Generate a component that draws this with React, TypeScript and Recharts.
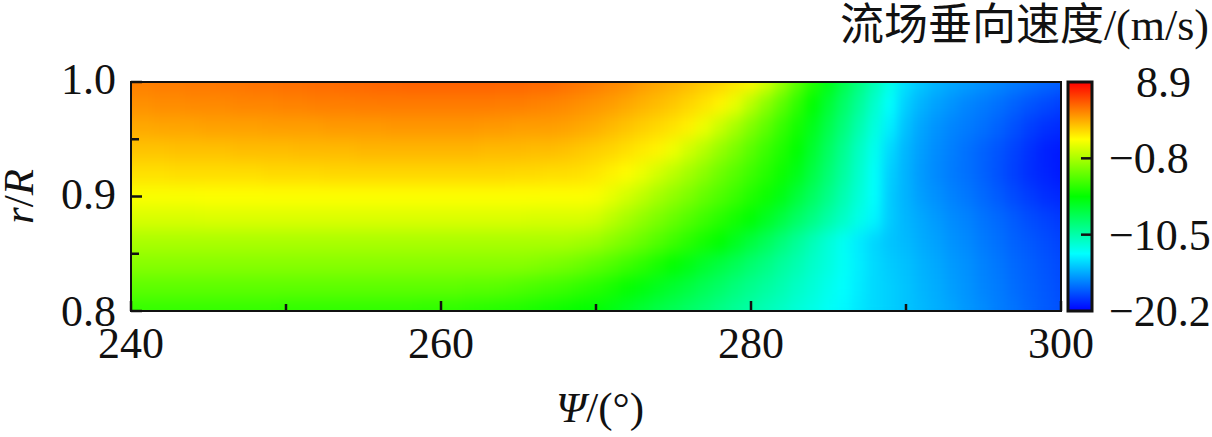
import React from 'react';
import {
  ScatterChart,
  Scatter,
  BarChart,
  Bar,
  XAxis,
  YAxis,
} from 'recharts';

// Field: azimuth columns, radius rows, vertical velocity in m/s
const azimuths = [
  240, 241, 242, 243, 244, 245, 246, 247, 248, 249, 250, 251, 252, 253, 254, 255, 256, 257, 258, 259,
  260, 261, 262, 263, 264, 265, 266, 267, 268, 269, 270, 271, 272, 273, 274, 275, 276, 277, 278, 279,
  280, 281, 282, 283, 284, 285, 286, 287, 288, 289, 290, 291, 292, 293, 294, 295, 296, 297, 298, 299, 300,
];
const radii = [1.0, 0.98, 0.96, 0.94, 0.92, 0.9, 0.88, 0.86, 0.84, 0.82, 0.8];
const velocity = [
  [5.3, 5.3, 5.4, 5.4, 5.5, 5.5, 5.6, 5.6, 5.7, 5.7, 5.8, 5.8, 5.9, 5.9, 6.0, 6.0, 6.1, 6.1, 6.2, 6.2, 6.2, 6.2, 6.2, 6.2, 6.1, 6.1, 6.0, 6.0, 5.8, 5.6,
    5.4, 5.1, 4.9, 4.5, 4.2, 3.9, 3.6, 3.2, 2.9, 2.4, 1.9, 0.5, -1.2, -3.0, -4.6, -6.2, -7.8, -9.3, -10.8, -12.3, -13.8, -14.5, -15.0, -15.4, -15.7, -16.0, -16.3, -16.6, -16.9, -17.2, -17.4],
  [4.8, 4.8, 4.9, 4.9, 5.0, 5.0, 5.0, 5.1, 5.1, 5.1, 5.2, 5.2, 5.3, 5.3, 5.3, 5.4, 5.4, 5.4, 5.4, 5.4, 5.4, 5.4, 5.4, 5.4, 5.3, 5.3, 5.2, 5.1, 5.0, 4.8,
    4.6, 4.4, 4.1, 3.8, 3.5, 3.2, 2.8, 2.4, 1.9, 1.0, -0.4, -1.7, -3.0, -4.3, -5.65, -7.1, -8.6, -10.0, -11.5, -12.9, -14.3, -15.1, -15.6, -16.0, -16.4, -16.7, -17.0, -17.4, -17.8, -18.1, -18.4],
  [4.1, 4.1, 4.2, 4.2, 4.2, 4.3, 4.3, 4.3, 4.3, 4.4, 4.4, 4.4, 4.4, 4.5, 4.5, 4.5, 4.5, 4.6, 4.6, 4.6, 4.6, 4.6, 4.6, 4.5, 4.5, 4.4, 4.4, 4.4, 4.3, 4.1,
    3.9, 3.6, 3.3, 3.0, 2.7, 2.4, 2.0, 1.1, 0.1, -0.9, -2.0, -3.0, -4.1, -5.1, -6.4, -7.8, -9.2, -10.6, -12.0, -13.4, -14.7, -15.5, -16.0, -16.4, -16.7, -17.0, -17.4, -17.9, -18.4, -18.8, -19.0],
  [3.3, 3.3, 3.3, 3.4, 3.4, 3.4, 3.4, 3.5, 3.5, 3.5, 3.5, 3.6, 3.6, 3.6, 3.6, 3.7, 3.7, 3.7, 3.7, 3.7, 3.7, 3.7, 3.7, 3.6, 3.6, 3.6, 3.5, 3.5, 3.4, 3.2,
    3.0, 2.8, 2.5, 2.2, 1.9, 1.2, 0.3, -0.5, -1.4, -2.2, -3.1, -4.0, -4.8, -5.65, -7.0, -8.4, -9.8, -11.2, -12.5, -14.0, -15.0, -15.7, -16.2, -16.6, -17.0, -17.4, -17.8, -18.3, -18.8, -19.3, -19.5],
  [2.5, 2.5, 2.5, 2.6, 2.6, 2.6, 2.6, 2.6, 2.6, 2.7, 2.7, 2.7, 2.7, 2.8, 2.8, 2.8, 2.8, 2.8, 2.8, 2.8, 2.8, 2.8, 2.8, 2.8, 2.8, 2.7, 2.7, 2.6, 2.6, 2.5,
    2.3, 2.0, 1.7, 1.1, 0.4, -0.3, -1.0, -1.7, -2.5, -3.2, -3.9, -4.6, -5.3, -6.3, -7.6, -8.9, -10.2, -11.5, -12.8, -14.3, -15.1, -15.8, -16.3, -16.7, -17.0, -17.4, -17.9, -18.4, -18.9, -19.2, -19.5],
  [1.5, 1.5, 1.5, 1.5, 1.5, 1.6, 1.6, 1.6, 1.6, 1.6, 1.6, 1.6, 1.6, 1.6, 1.6, 1.6, 1.6, 1.6, 1.6, 1.6, 1.6, 1.6, 1.6, 1.6, 1.6, 1.6, 1.6, 1.6, 1.6, 1.6,
    1.5, 1.0, 0.4, -0.2, -0.9, -1.5, -2.1, -2.8, -3.4, -4.0, -4.7, -5.3, -6.2, -7.3, -8.4, -9.5, -10.7, -11.8, -12.9, -14.4, -15.1, -15.7, -16.1, -16.5, -16.8, -17.2, -17.6, -18.1, -18.5, -18.9, -19.1],
  [0.5, 0.5, 0.5, 0.5, 0.5, 0.6, 0.6, 0.6, 0.6, 0.6, 0.6, 0.6, 0.6, 0.6, 0.6, 0.6, 0.6, 0.6, 0.6, 0.6, 0.6, 0.6, 0.6, 0.6, 0.6, 0.6, 0.5, 0.5, 0.5, 0.5,
    0.3, -0.3, -0.9, -1.5, -2.1, -2.7, -3.3, -3.9, -4.5, -5.1, -5.7, -6.6, -7.5, -8.5, -9.4, -10.4, -11.3, -12.3, -13.2, -14.4, -15.0, -15.4, -15.8, -16.2, -16.5, -16.9, -17.2, -17.6, -18.0, -18.3, -18.6],
  [-0.8, -0.8, -0.8, -0.8, -0.8, -0.8, -0.8, -0.8, -0.8, -0.8, -0.8, -0.8, -0.8, -0.8, -0.8, -0.8, -0.8, -0.8, -0.8, -0.8, -0.8, -0.8, -0.8, -0.8, -0.8, -0.8, -0.8, -0.8, -0.8, -1.0,
    -1.2, -1.7, -2.2, -2.7, -3.3, -3.9, -4.5, -5.1, -5.65, -6.5, -7.4, -8.2, -9.1, -10.0, -10.9, -11.8, -12.6, -13.5, -14.1, -14.6, -14.9, -15.3, -15.6, -16.0, -16.3, -16.7, -17.0, -17.4, -17.7, -18.0, -18.3],
  [-1.8, -1.8, -1.8, -1.8, -1.8, -1.8, -1.8, -1.8, -1.8, -1.8, -1.8, -1.8, -1.8, -1.8, -1.8, -1.8, -1.8, -1.8, -1.8, -1.8, -1.8, -1.8, -1.8, -1.8, -1.8, -1.8, -1.9, -2.1, -2.3, -2.6,
    -3.0, -3.4, -3.9, -4.4, -5.0, -5.6, -6.2, -6.9, -7.5, -8.1, -8.8, -9.4, -10.1, -10.7, -11.4, -12.0, -12.7, -13.4, -14.0, -14.4, -14.7, -15.1, -15.4, -15.8, -16.1, -16.5, -16.8, -17.2, -17.5, -17.8, -18.1],
  [-3.0, -3.0, -3.0, -3.0, -3.0, -3.0, -3.0, -3.0, -3.0, -3.0, -3.0, -3.0, -3.0, -3.0, -3.0, -3.0, -3.0, -3.0, -3.0, -3.0, -3.0, -3.0, -3.1, -3.1, -3.2, -3.4, -3.6, -3.8, -4.0, -4.3,
    -4.6, -5.0, -5.5, -6.0, -6.5, -7.0, -7.5, -8.1, -8.6, -9.2, -9.7, -10.2, -10.7, -11.3, -11.8, -12.4, -12.9, -13.5, -14.0, -14.3, -14.6, -15.0, -15.3, -15.7, -16.0, -16.4, -16.7, -17.1, -17.4, -17.7, -18.0],
  [-4.2, -4.2, -4.2, -4.2, -4.2, -4.2, -4.2, -4.2, -4.2, -4.2, -4.3, -4.3, -4.3, -4.3, -4.3, -4.3, -4.3, -4.3, -4.3, -4.4, -4.4, -4.4, -4.5, -4.6, -4.7, -4.8, -5.0, -5.2, -5.4, -5.6,
    -5.8, -6.2, -6.7, -7.2, -7.7, -8.1, -8.6, -9.0, -9.5, -10.0, -10.4, -10.9, -11.3, -11.8, -12.2, -12.7, -13.1, -13.6, -14.0, -14.3, -14.6, -14.9, -15.2, -15.5, -15.9, -16.2, -16.6, -16.9, -17.3, -17.6, -17.9],
];

const xTicks = [240, 250, 260, 270, 280, 290, 300];
const xLabels = [240, 260, 280, 300];
const yTicks = [0.8, 0.85, 0.9, 0.95, 1.0];
const yLabels = [0.8, 0.9, 1.0];
const barTicks = [8.9, -0.8, -10.5, -20.2];
const barMin = -20.2;
const barMax = 8.9;
const jet = ['#0000ff', '#00ffff', '#00ff00', '#ffff00', '#ff0000'];
const jetRgb = [[0, 0, 255], [0, 255, 255], [0, 255, 0], [255, 255, 0], [255, 0, 0]];

const FONT = '"Liberation Serif", "Noto Sans CJK SC", serif';
const INK = '#111';
const FONT_SIZE = 44;
const PLOT = { left: 131, top: 82, width: 930, height: 229 };
const CELL_W = PLOT.width / (azimuths.length - 1);
const CELL_H = PLOT.height / (radii.length - 1);
const FRAME = 2.8;

const cells = radii.flatMap((r, i) => azimuths.map((a, j) => ({ a, r, v: velocity[i][j] })));

function colorOf(v: number) {
  const t = Math.min(0.9999, Math.max(0, (v - barMin) / (barMax - barMin))) * 4;
  const k = Math.floor(t);
  const f = t - k;
  const c = jetRgb[k].map((p, n) => Math.round(p + (jetRgb[k + 1][n] - p) * f));
  return `rgb(${c.join(',')})`;
}

const HeatCell = (props: any) => {
  const v = props.payload ? props.payload.v : props.v;
  return (
    <rect
      x={props.cx - CELL_W / 2 - 0.5}
      y={props.cy - CELL_H / 2 - 0.5}
      width={CELL_W + 1}
      height={CELL_H + 1}
      fill={colorOf(v)}
    />
  );
};

const XTick = ({ x, y, payload }: any) => (
  <g>
    <line x1={x} x2={x} y1={y} y2={y - (xLabels.includes(payload.value) ? 10 : 7)} stroke={INK} strokeWidth={2.5} />
    {xLabels.includes(payload.value) && (
      <text x={x} y={y + 47} textAnchor="middle" fontSize={FONT_SIZE} fontFamily={FONT} fill={INK}>
        {payload.value}
      </text>
    )}
  </g>
);

const YTick = ({ x, y, payload }: any) => {
  const major = yLabels.includes(payload.value);
  return (
    <g>
      <line x1={x} x2={x + (major ? 11 : 8)} y1={y} y2={y} stroke={INK} strokeWidth={2.5} />
      {major && (
        <text x={x - 15} y={y + (payload.value === 0.8 ? 15 : 12)} textAnchor="end" fontSize={FONT_SIZE} fontFamily={FONT} fill={INK}>
          {payload.value.toFixed(1)}
        </text>
      )}
    </g>
  );
};

const BarTick = ({ x, y, payload }: any) => {
  const v = payload.value;
  const inner = v !== barMin && v !== barMax;
  return (
    <g>
      {inner && <line x1={x} x2={x - 11} y1={y} y2={y} stroke={INK} strokeWidth={2.5} />}
      <text x={x + (v < 0 ? 17 : 44)} y={y + 15} textAnchor="start" fontSize={FONT_SIZE} fontFamily={FONT} fill={INK}>
        {v < 0 ? `\u2212${Math.abs(v).toFixed(1)}` : v.toFixed(1)}
      </text>
    </g>
  );
};

const XTitle = ({ viewBox }: any) => (
  <text x={viewBox.x + viewBox.width / 2 + 4} y={422} textAnchor="middle" fontSize={43} fontFamily={FONT} fill={INK}>
    <tspan fontStyle="italic">Ψ</tspan>/(°)
  </text>
);

const YTitle = ({ viewBox }: any) => {
  const cy = viewBox.y + viewBox.height / 2;
  return (
    <text x={33} y={cy} transform={`rotate(-90 33 ${cy})`} textAnchor="middle" fontSize={43} fontFamily={FONT} fill={INK}>
      <tspan fontStyle="italic">r</tspan>/<tspan fontStyle="italic">R</tspan>
    </text>
  );
};

export default function App() {
  return (
    <div style={{ position: 'relative', width: 1212, height: 437, background: '#fff', overflow: 'hidden' }}>
      <style>{`
        body { margin: 0; }
        .recharts-scatter { filter: url(#cellBlur); clip-path: url(#plotClip); }
      `}</style>

      <div
        style={{
          position: 'absolute',
          right: 3,
          top: 1,
          fontFamily: FONT,
          fontSize: FONT_SIZE,
          lineHeight: '50px',
          color: INK,
          whiteSpace: 'nowrap',
        }}
      >
        流场垂向速度/(m/s)
      </div>

      <div style={{ position: 'absolute', left: 0, top: 0 }}>
        <ScatterChart
          width={1212}
          height={437}
          margin={{ top: PLOT.top, right: 1212 - PLOT.left - PLOT.width, bottom: 46, left: 0 }}
        >
          <defs>
            <filter id="cellBlur" filterUnits="userSpaceOnUse" x={0} y={0} width={1212} height={437} colorInterpolationFilters="sRGB">
              <feGaussianBlur stdDeviation="5.5 8" />
              <feComponentTransfer>
                <feFuncA type="linear" slope={60} />
              </feComponentTransfer>
            </filter>
            <clipPath id="plotClip" clipPathUnits="userSpaceOnUse">
              <rect x={PLOT.left} y={PLOT.top} width={PLOT.width} height={PLOT.height} />
            </clipPath>
          </defs>
          <Scatter data={cells} dataKey="r" shape={HeatCell} isAnimationActive={false} />
          <XAxis
            type="number"
            dataKey="a"
            domain={[240, 300]}
            ticks={xTicks}
            interval={0}
            height={80}
            axisLine={false}
            tickLine={false}
            tickSize={0}
            tickMargin={0}
            tick={XTick}
            label={XTitle}
          />
          <YAxis
            type="number"
            dataKey="r"
            domain={[0.8, 1]}
            ticks={yTicks}
            interval={0}
            width={PLOT.left}
            axisLine={false}
            tickLine={false}
            tickSize={0}
            tickMargin={0}
            tick={YTick}
            label={YTitle}
          />
        </ScatterChart>
      </div>

      <div style={{ position: 'absolute', left: 1060, top: 0 }}>
        <BarChart
          width={152}
          height={437}
          data={[{ name: 'v', range: [barMin, barMax] }]}
          margin={{ top: PLOT.top, right: 0, bottom: 126, left: 8 }}
          barCategoryGap={0}
        >
          <defs>
            <linearGradient id="jetBar" x1="0" y1="1" x2="0" y2="0">
              {jet.map((c, i) => (
                <stop key={c} offset={`${i * 25}%`} stopColor={c} />
              ))}
            </linearGradient>
          </defs>
          <XAxis dataKey="name" hide />
          <Bar dataKey="range" fill="url(#jetBar)" stroke={INK} strokeWidth={3} isAnimationActive={false} />
          <YAxis
            orientation="right"
            type="number"
            domain={[barMin, barMax]}
            ticks={barTicks}
            interval={0}
            width={120}
            axisLine={false}
            tickLine={false}
            tickSize={0}
            tickMargin={0}
            tick={BarTick}
          />
        </BarChart>
      </div>

      {/* frame of the plot, on top of the cells */}
      <div
        style={{
          position: 'absolute',
          left: PLOT.left - FRAME / 2,
          top: PLOT.top - FRAME / 2,
          width: PLOT.width + FRAME,
          height: PLOT.height + FRAME,
          boxSizing: 'border-box',
          border: `${FRAME}px solid ${INK}`,
          pointerEvents: 'none',
        }}
      />
    </div>
  );
}
